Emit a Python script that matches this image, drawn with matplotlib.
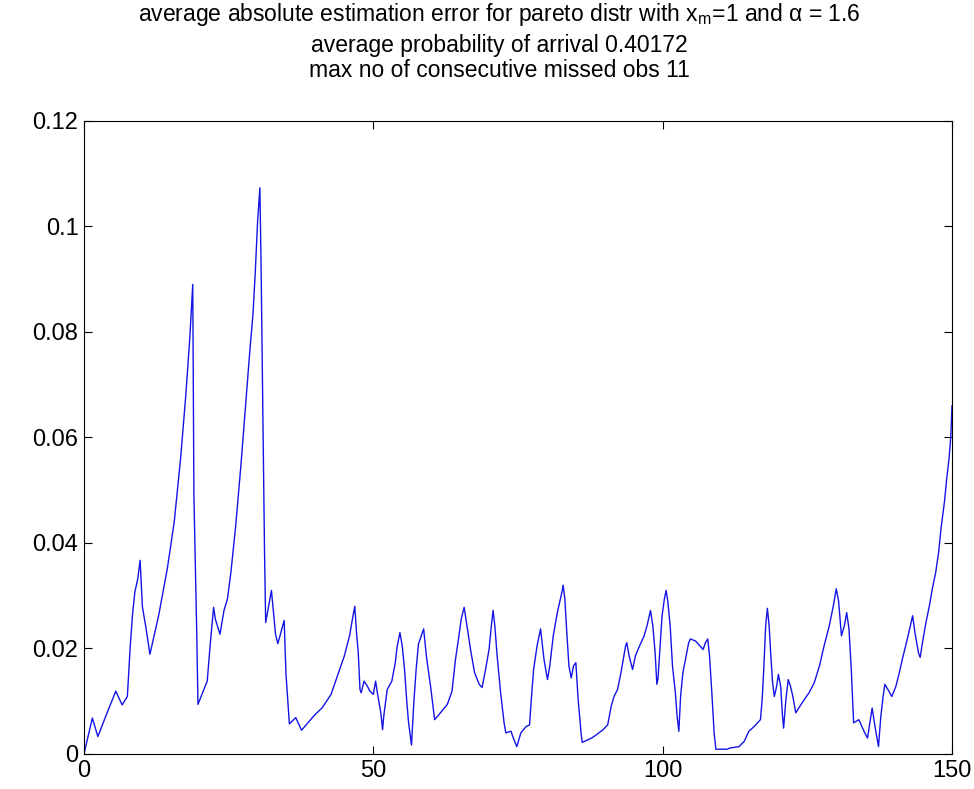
import matplotlib
matplotlib.use("Agg")
import matplotlib.pyplot as plt

plt.rcParams['font.family'] = ['Liberation Sans', 'DejaVu Sans']
plt.rcParams['mathtext.fontset'] = 'custom'
plt.rcParams['mathtext.rm'] = 'Liberation Sans'
plt.rcParams['mathtext.it'] = 'Liberation Sans'

# breakpoints of the error curve
step = [0, 1.45, 2.4, 4.0, 5.5, 6.6, 7.5, 8.0, 8.4, 8.8, 9.3, 9.7, 10.1, 10.7, 11.4,
        12.9, 14.4, 15.6, 16.7, 17.6, 18.3, 18.8, 19.0, 19.5, 19.7, 20.5, 21.3, 21.8,
        22.4, 22.7, 23.5, 24.2, 24.8, 25.4, 26.2, 27.1, 27.9, 28.7, 29.2, 29.6, 30.0,
        30.4, 30.6, 30.9, 31.2, 31.4, 32.4, 33.1, 33.5, 33.9, 34.6, 34.9, 35.5, 36.6,
        37.6, 39.8, 41.2, 42.7, 43.8, 45.0, 45.9, 46.4, 46.8, 47.1, 47.4, 47.7, 47.9,
        48.4, 49.0, 49.4, 50.0, 50.4, 50.7, 51.3, 51.6, 51.8, 52.4, 53.2, 53.8, 54.1,
        54.6, 55.0, 55.4, 55.8, 56.1, 56.6, 57.0, 57.4, 57.8, 58.4, 58.7, 59.2, 59.9,
        60.6, 61.6, 62.8, 63.6, 64.2, 64.8, 65.2, 65.7, 66.1, 66.8, 67.5, 68.3, 68.8,
        69.4, 70.0, 70.4, 70.7, 71.0, 71.4, 72.0, 72.6, 72.9, 73.8, 74.2, 74.8, 75.5,
        76.4, 77.0, 77.3, 77.7, 78.3, 78.9, 79.5, 80.1, 80.5, 81.1, 81.8, 82.6, 82.8,
        83.1, 83.4, 83.8, 84.2, 84.6, 85.0, 85.4, 85.9, 86.1, 87.7, 88.5, 89.7, 90.5,
        91.1, 91.6, 92.2, 92.8, 93.2, 93.6, 93.8, 94.2, 94.8, 95.3, 95.9, 96.8, 97.3,
        97.7, 97.9, 98.3, 98.7, 99.0, 99.2, 99.6, 99.9, 100.3, 100.6, 100.9, 101.3,
        101.7, 102.2, 102.5, 102.8, 103.1, 103.5, 104.0, 104.5, 104.8, 105.7, 107.0,
        107.4, 107.8, 108.1, 108.5, 108.9, 109.2, 111.2, 111.5, 113.2, 114.1, 114.9,
        115.8, 116.9, 117.2, 117.5, 117.8, 118.1, 118.4, 118.7, 119.0, 119.3, 119.7,
        120.0, 120.4, 120.7, 120.9, 121.3, 121.7, 122.1, 122.5, 123.0, 124.1, 125.3,
        126.2, 127.1, 127.9, 128.8, 129.5, 130.0, 130.4, 130.9, 131.4, 131.8, 132.2,
        132.6, 133.0, 133.9, 134.8, 135.4, 135.8, 136.2, 136.7, 137.3, 137.7, 138.1,
        138.4, 139.1, 139.6, 140.3, 140.9, 141.4, 142.0, 142.6, 143.2, 143.6, 144.2,
        144.5, 144.9, 145.5, 146.1, 146.6, 147.2, 147.7, 148.1, 148.7, 149.1, 149.5,
        149.8, 150.0]

abs_err = [0.0, 0.0068, 0.0033, 0.0078, 0.0119, 0.0093, 0.0109, 0.0205, 0.0265, 0.0307,
           0.0332, 0.0367, 0.0279, 0.024, 0.0189, 0.0262, 0.0351, 0.044, 0.056, 0.068,
           0.079, 0.089, 0.0489, 0.0224, 0.0094, 0.0116, 0.0138, 0.0205, 0.0278, 0.0256,
           0.0227, 0.0272, 0.0294, 0.0345, 0.043, 0.0544, 0.0656, 0.0769, 0.0832, 0.0912,
           0.1008, 0.1073, 0.0932, 0.066, 0.0386, 0.0249, 0.031, 0.0227, 0.0209, 0.0225,
           0.0253, 0.0153, 0.0057, 0.0069, 0.0045, 0.0073, 0.0088, 0.0113, 0.0148, 0.0186,
           0.0224, 0.0256, 0.028, 0.023, 0.0192, 0.0122, 0.0116, 0.0138, 0.0128, 0.0119,
           0.0113, 0.0138, 0.0116, 0.0078, 0.0046, 0.0071, 0.0122, 0.0138, 0.0173, 0.0202,
           0.023, 0.0205, 0.016, 0.0097, 0.0059, 0.0017, 0.0097, 0.016, 0.0208, 0.0227,
           0.0237, 0.0183, 0.0128, 0.0065, 0.0078, 0.0094, 0.0119, 0.0179, 0.0224, 0.0256,
           0.0278, 0.0249, 0.0198, 0.0154, 0.0132, 0.0126, 0.016, 0.0198, 0.0243, 0.0272,
           0.0243, 0.0186, 0.0116, 0.0059, 0.004, 0.0043, 0.003, 0.0014, 0.004, 0.0052,
           0.0055, 0.0103, 0.016, 0.0205, 0.0237, 0.0179, 0.0141, 0.0167, 0.0224, 0.0268,
           0.0307, 0.032, 0.0294, 0.0237, 0.0167, 0.0144, 0.0167, 0.0173, 0.0103, 0.004,
           0.0022, 0.003, 0.0036, 0.0046, 0.0055, 0.009, 0.0109, 0.0122, 0.0154, 0.0179,
           0.0205, 0.0211, 0.0186, 0.016, 0.0186, 0.0202, 0.0224, 0.0243, 0.0262, 0.0272,
           0.0243, 0.0192, 0.0132, 0.0143, 0.0211, 0.0262, 0.0294, 0.031, 0.0288, 0.0243,
           0.0167, 0.0116, 0.0071, 0.0043, 0.0109, 0.0154, 0.0183, 0.0211, 0.0218, 0.0214,
           0.0198, 0.0211, 0.0218, 0.0186, 0.0116, 0.004, 0.0009, 0.0009, 0.0011, 0.0014,
           0.0024, 0.0043, 0.0052, 0.0065, 0.0103, 0.0167, 0.0243, 0.0276, 0.0243, 0.0186,
           0.0135, 0.0109, 0.0128, 0.0151, 0.0128, 0.0074, 0.0049, 0.0103, 0.0141, 0.0128,
           0.0109, 0.0078, 0.0097, 0.0116, 0.0135, 0.0167, 0.0205, 0.0243, 0.0281, 0.0313,
           0.029, 0.0224, 0.0243, 0.0268, 0.0237, 0.016, 0.0059, 0.0065, 0.0043, 0.003,
           0.0059, 0.0087, 0.0052, 0.0014, 0.0071, 0.0109, 0.0132, 0.0119, 0.0109, 0.0128,
           0.0154, 0.0179, 0.0205, 0.0233, 0.0262, 0.023, 0.0192, 0.0183, 0.0211, 0.0249,
           0.0281, 0.0313, 0.0345, 0.0383, 0.0427, 0.0478, 0.0523, 0.0561, 0.0602, 0.066]

xticks = [0, 50, 100, 150]
yticks = [0, 0.02, 0.04, 0.06, 0.08, 0.1, 0.12]
ytick_labels = ['0', '0.02', '0.04', '0.06', '0.08', '0.1', '0.12']

title_lines = [r'average absolute estimation error for pareto distr with x$_{\mathrm{m}}$=1 and $\alpha$ = 1.6',
               'average probability of arrival 0.40172',
               'max no of consecutive missed obs 11']

fig = plt.figure(figsize=(9.74, 7.89), dpi=100)
ax = fig.add_axes([0.0862, 0.0444, 0.8912, 0.8025])

ax.plot(step, abs_err, color=(0.08, 0.08, 0.9), linewidth=1.0)

ax.set_xlim(0, 150)
ax.set_ylim(0, 0.12)
ax.set_xticks(xticks)
ax.set_xticklabels([str(t) for t in xticks])
ax.set_yticks(yticks)
ax.set_yticklabels(ytick_labels)
ax.tick_params(direction='in', length=6, width=0.8, labelsize=17,
               top=True, right=True, pad=4, colors='black')
for sp in ax.spines.values():
    sp.set_linewidth(0.8)

# three-line title, MATLAB style
fig.text(0.513, 0.973, title_lines[0], ha='center', va='baseline', fontsize=16.5)
fig.text(0.513, 0.934, title_lines[1], ha='center', va='baseline', fontsize=16.5)
fig.text(0.513, 0.902, title_lines[2], ha='center', va='baseline', fontsize=16.5)

fig.savefig('out.png', dpi=100)
